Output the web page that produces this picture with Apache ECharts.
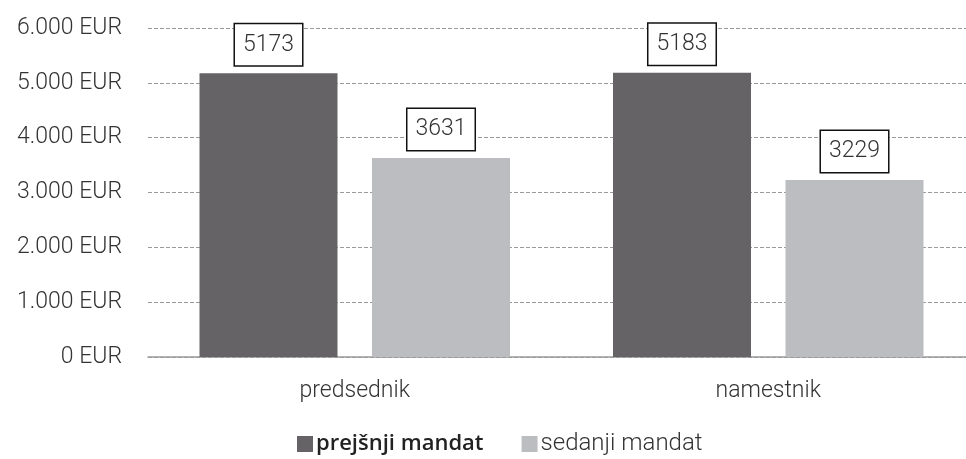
<!DOCTYPE html>
<html lang="sl">
<head>
    <meta charset="UTF-8">
    <title>mandat</title>
    <script src="https://cdn.jsdelivr.net/npm/echarts@6/dist/echarts.min.js"></script>
    <style>
        html, body { margin: 0; padding: 0; background: #fff; }
        #main { width: 966px; height: 459px; }
    </style>
</head>
<body>
<div id="main"></div>
<script type="text/javascript">
    // podatki
    var categories = ['predsednik', 'namestnik'];
    var seriesNames = ['prejšnji mandat', 'sedanji mandat'];
    var prejsnji = [5173, 5183];
    var sedanji = [3631, 3229];

    var font = 'Roboto, "Noto Sans", sans-serif';

    function eur(v) {
        // 6000 -> "6.000 EUR"
        var s = String(v).replace(/\B(?=(\d{3})+(?!\d))/g, '.');
        return s + ' EUR';
    }

    var boxLabel = {
        show: true,
        position: 'top',
        distance: 8,
        fontFamily: font,
        fontWeight: 300,
        fontSize: 23,
        lineHeight: 25,
        color: '#333',
        backgroundColor: '#fff',
        borderColor: '#111',
        borderWidth: 1.5,
        padding: [8, 8, 8, 8]
    };

    var myChart = echarts.init(document.getElementById('main'));
    var option = {
        animation: false,
        grid: {
            left: 148,
            right: -9,
            top: 28,
            bottom: 102,
            outerBoundsMode: 'none'
        },
        legend: {
            left: 297,
            top: 432,
            padding: 0,
            itemWidth: 16,
            itemHeight: 16,
            itemGap: 38,
            icon: 'rect',
            textStyle: {
                fontFamily: font,
                fontWeight: 300,
                fontSize: 24,
                color: '#333',
                padding: [0, 0, 0, -2]
            },
            data: [
                {name: seriesNames[0], textStyle: {fontFamily: '"Open Sans", sans-serif', fontWeight: 600, fontSize: 22, color: '#222'}},
                {name: seriesNames[1]}
            ]
        },
        xAxis: {
            type: 'category',
            data: categories,
            axisLine: {lineStyle: {color: '#9a9a9a', width: 1.5}},
            axisTick: {show: false},
            axisLabel: {
                margin: 23,
                fontFamily: font,
                fontWeight: 300,
                fontSize: 23,
                color: '#333'
            }
        },
        yAxis: {
            type: 'value',
            min: 0,
            max: 6000,
            interval: 1000,
            axisLine: {show: false},
            axisTick: {show: false},
            splitLine: {lineStyle: {color: '#9a9a9a', type: [4, 2], width: 1}},
            axisLabel: {
                margin: 26,
                fontFamily: font,
                fontWeight: 300,
                fontSize: 23,
                color: '#333',
                formatter: eur
            }
        },
        series: [
            {
                name: seriesNames[0],
                type: 'bar',
                data: prejsnji,
                barWidth: 138,
                barGap: '25%',
                itemStyle: {color: '#656366'},
                label: boxLabel
            },
            {
                name: seriesNames[1],
                type: 'bar',
                data: sedanji,
                barWidth: 138,
                itemStyle: {color: '#bcbdc0'},
                label: boxLabel
            }
        ]
    };
    myChart.setOption(option);
</script>
</body>
</html>
